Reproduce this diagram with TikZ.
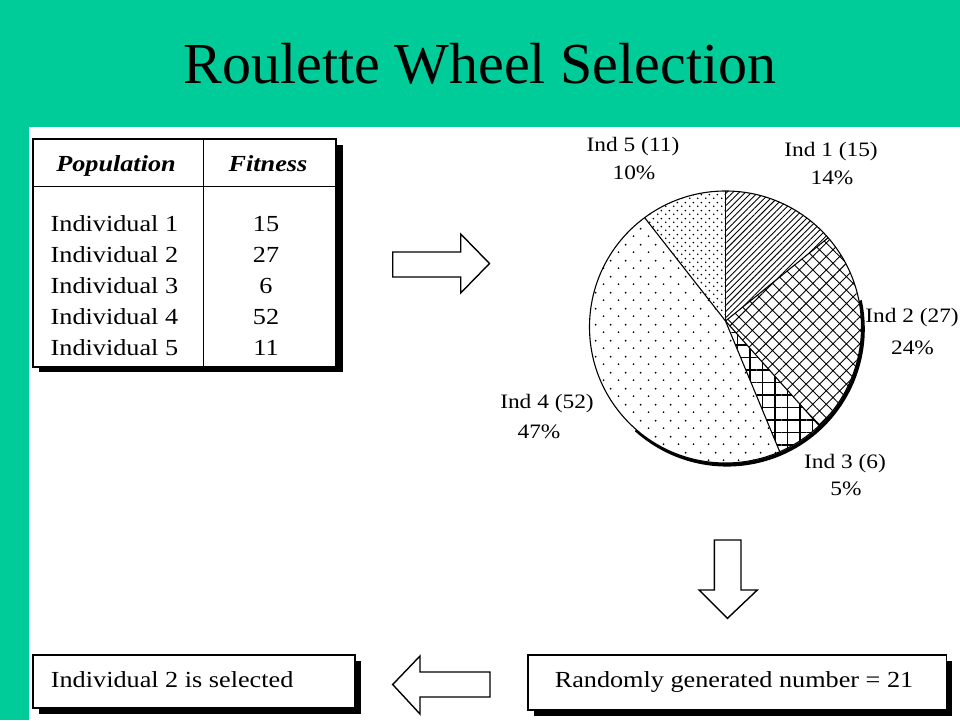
\documentclass[tikz,border=0pt]{standalone}
\usepackage{fontspec}
\setmainfont{Liberation Serif}
\newfontfamily\bmfont[FakeStretch=1.14]{Liberation Serif}
\usetikzlibrary{patterns,patterns.meta,calc}
\definecolor{slidegreen}{RGB}{0,204,153}

\pgfdeclarepattern{
  name=sparsedots, type=uncolored,
  bottom left={\pgfpoint{0pt}{0pt}}, top right={\pgfpoint{15pt}{16pt}},
  tile size={\pgfpoint{15pt}{16pt}},
  code={\pgfpathcircle{\pgfpoint{3.75pt}{4pt}}{1.05pt}\pgfpathcircle{\pgfpoint{11.25pt}{12pt}}{1.05pt}\pgfusepath{fill}}
}
\pgfdeclarepattern{
  name=densedots, type=uncolored,
  bottom left={\pgfpoint{0pt}{0pt}}, top right={\pgfpoint{8pt}{8pt}},
  tile size={\pgfpoint{8pt}{8pt}},
  code={\pgfpathcircle{\pgfpoint{2pt}{2pt}}{1pt}\pgfpathcircle{\pgfpoint{6pt}{6pt}}{1pt}\pgfusepath{fill}}
}

\tikzset{
  txt/.style={font=\bmfont\fontsize{23}{23}\selectfont, inner sep=0pt},
  hdr/.style={font=\bmfont\bfseries\itshape\fontsize{23}{23}\selectfont, inner sep=0pt, anchor=base},
  lbl/.style={font=\bmfont\fontsize{20.5}{20.5}\selectfont, inner sep=0pt, anchor=base},
  frame/.style={draw=black, line width=1.5pt, fill=white},
  shadowbox/.style={fill=black},
  blockarrow/.style={draw=black, line width=1.4pt, fill=white, line join=miter},
  slice/.style={draw=black, line width=1.1pt},
}

\begin{document}
\begin{tikzpicture}[x=1pt,y=-1pt]
\useasboundingbox (0,0) rectangle (960,720);
% background
\fill[slidegreen] (0,0) rectangle (960,720);
\fill[white] (29,127) rectangle (960,720);

% title
\node[font=\fontsize{58}{58}\selectfont, inner sep=0pt, anchor=base] (title) at (480,83) {Roulette Wheel Selection};

% ---------- table ----------
\fill[shadowbox] (39,145) rectangle (342.5,372);
\draw[frame] (33,139) rectangle (336,367);
\draw[line width=1.5pt] (33,186.5) -- (336,186.5);
\draw[line width=1.5pt] (203.5,139) -- (203.5,367);
\node[hdr] (hpop) at (116,171) {Population};
\node[hdr] (hfit) at (268,171) {Fitness};
\foreach \k/\f/\y in {1/15/231.5, 2/27/262.5, 3/6/293.5, 4/52/324.5, 5/11/355.5}{
  \node[txt, anchor=base west] (ind\k) at (50.5,\y) {Individual \k};
  \node[txt, anchor=base] (fit\k) at (266,\y) {\f};
}

% ---------- right arrow ----------
\draw[blockarrow] (392.7,252) -- (460.7,252) -- (460.7,234) -- (489.5,263.5)
   -- (460.7,293) -- (460.7,277) -- (392.7,277) -- cycle;

% ---------- pie ----------
\coordinate (C) at (725.5,327);
\coordinate (A) at (725.5,321);
\def\R{136}
% shadow
\draw[line width=3.5pt] ($(C)+(1.5,1.8)+(-12:\R)$) arc[start angle=-12, end angle=132, radius=\R];
% white base
\fill[white] (C) circle[radius=\R];
% Ind 1
\fill[pattern={Lines[angle=45,distance=4.4pt,line width=0.9pt]}] (A) -- ($(C)+(-90:\R)$) arc[start angle=-90, end angle=-41, radius=\R] -- cycle;
% Ind 2
\fill[pattern={Hatch[angle=45,distance=9.5pt,line width=0.9pt]}] (A) -- ($(C)+(-41:\R)$) arc[start angle=-41, end angle=46.5, radius=\R] -- cycle;
% Ind 3
\fill[pattern={Hatch[angle=0,distance=12.5pt,line width=1.1pt]}] (A) -- ($(C)+(46.5:\R)$) arc[start angle=46.5, end angle=66.5, radius=\R] -- cycle;
% Ind 4
\fill[pattern=sparsedots] (A) -- ($(C)+(66.5:\R)$) arc[start angle=66.5, end angle=233.5, radius=\R] -- cycle;
% Ind 5
\fill[pattern=densedots] (A) -- ($(C)+(233.5:\R)$) arc[start angle=233.5, end angle=270, radius=\R] -- cycle;
% borders
\draw[slice] (C) circle[radius=\R];
\foreach \a in {-90,-41,46.5,66.5,233.5}{
  \draw[slice] (A) -- ($(C)+(\a:\R)$);
}

% pie labels
\node[lbl] (l5a) at (633,151) {Ind 5 (11)};
\node[lbl] (l5b) at (634,179) {10\%};
\node[lbl] (l1a) at (831,156) {Ind 1 (15)};
\node[lbl] (l1b) at (832,184) {14\%};
\node[lbl] (l2a) at (912,322.5) {Ind 2 (27)};
\node[lbl] (l2b) at (912.5,354) {24\%};
\node[lbl] (l3a) at (845,468) {Ind 3 (6)};
\node[lbl] (l3b) at (846,495) {5\%};
\node[lbl] (l4a) at (547,408) {Ind 4 (52)};
\node[lbl] (l4b) at (539,438) {47\%};

% ---------- down arrow ----------
\draw[blockarrow] (714.3,540) -- (741,540) -- (741,590) -- (757.3,590) -- (727.5,618.3)
   -- (699,590) -- (714.3,590) -- cycle;

% ---------- bottom boxes ----------
\fill[shadowbox] (39,661) rectangle (361,713.5);
\draw[frame] (33,655) rectangle (355,708);
\node[txt, anchor=base west] (sel) at (50.7,687.7) {Individual 2 is selected};

\fill[shadowbox] (534,661) rectangle (952,715.5);
\draw[frame] (528,655) rectangle (946.5,710);
\node[txt, anchor=base] (rnd) at (734,687.7) {Randomly generated number = 21};

% ---------- left arrow ----------
\draw[blockarrow] (490,672) -- (420,672) -- (420,656) -- (392.7,684.5)
   -- (420,714) -- (420,697) -- (490,697) -- cycle;
\end{tikzpicture}
\end{document}
